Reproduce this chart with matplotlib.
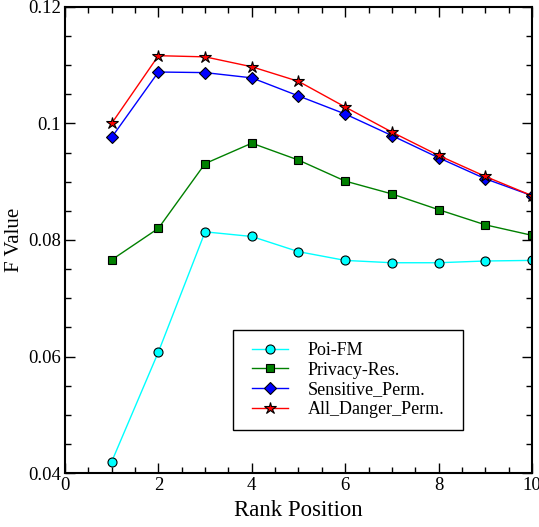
import numpy as np
import matplotlib
matplotlib.use('Agg')
import matplotlib.pyplot as plt
from matplotlib.patches import Rectangle
from matplotlib.ticker import MultipleLocator

plt.rcParams['font.family'] = ['Liberation Serif', 'DejaVu Serif']

# rank positions and F values per method
rank = [1, 2, 3, 4, 5, 6, 7, 8, 9, 10]
poi_fm = [0.0420, 0.0608, 0.0814, 0.0806, 0.0780, 0.0765, 0.0761, 0.0761, 0.0764, 0.0765]
privacy_res = [0.0766, 0.0820, 0.0931, 0.0966, 0.0937, 0.0901, 0.0879, 0.0852, 0.0826, 0.0808]
sensitive_perm = [0.0976, 0.1088, 0.1087, 0.1078, 0.1047, 0.1016, 0.0979, 0.0941, 0.0905, 0.0876]
all_danger_perm = [0.1000, 0.1116, 0.1114, 0.1097, 0.1072, 0.1028, 0.0985, 0.0945, 0.0909, 0.0876]

xticks = [0, 2, 4, 6, 8, 10]
yticks = [0.04, 0.06, 0.08, 0.1, 0.12]
ytick_labels = ['0.04', '0.06', '0.08', '0.1', '0.12']

fig = plt.figure(figsize=(5.39, 5.27), dpi=100)
ax = fig.add_axes([0.1206, 0.1019, 0.8664, 0.8854])

ax.plot(rank, poi_fm, color='cyan', marker='o', ms=6.5, mfc='cyan', mec='black', mew=0.8, lw=1, label='Poi-FM')
ax.plot(rank, privacy_res, color='green', marker='s', ms=6, mfc='green', mec='black', mew=0.8, lw=1, label='Privacy-Res.')
ax.plot(rank, sensitive_perm, color='blue', marker='D', ms=6.5, mfc='blue', mec='black', mew=0.8, lw=1, label='Sensitive_Perm.')
ax.plot(rank, all_danger_perm, color='red', marker='*', ms=9, mfc='red', mec='black', mew=0.8, lw=1, label='All_Danger_Perm.')

ax.set_xlim(0, 10)
ax.set_ylim(0.04, 0.12)
ax.set_xticks(xticks)
ax.set_xticklabels([str(t) for t in xticks])
ax.set_yticks(yticks)
ax.set_yticklabels(ytick_labels)
ax.xaxis.set_minor_locator(MultipleLocator(0.5))
ax.yaxis.set_minor_locator(MultipleLocator(0.005))
ax.tick_params(which='major', direction='in', top=True, right=True, labelsize=13.5,
               length=7, width=1, pad=3)
ax.tick_params(which='minor', direction='in', top=True, right=True, length=4, width=1)
for s in ax.spines.values():
    s.set_linewidth(1.5)

ax.set_xlabel('Rank Position', fontsize=16.4, labelpad=4)
ax.set_ylabel('F Value', fontsize=15, labelpad=3)

# legend frame drawn separately so the side padding can be wider than top/bottom
ax.add_patch(Rectangle((0.36, 0.093), 0.4925, 0.2143, transform=ax.transAxes,
                       facecolor='white', edgecolor='black', lw=1, zorder=4))
leg = ax.legend(loc='center', bbox_to_anchor=(0.606, 0.2), fontsize=13,
                frameon=False, handlelength=2.0, labelspacing=0.15,
                borderpad=0, handletextpad=1.1, borderaxespad=0)
leg.set_zorder(5)

fig.savefig('out.png', dpi=100)
